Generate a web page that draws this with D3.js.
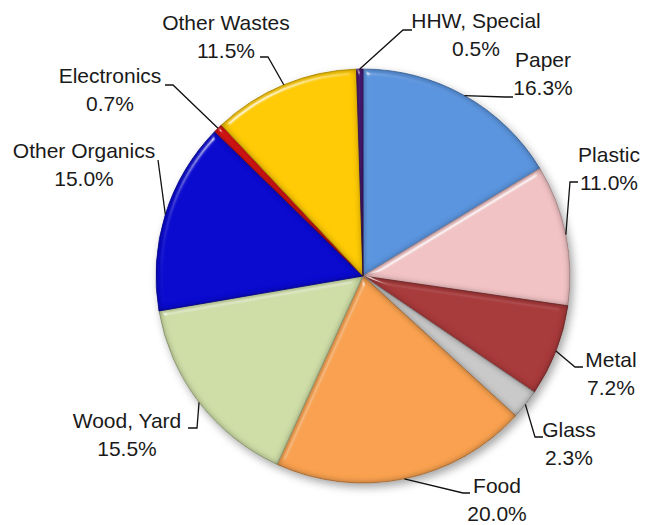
<!DOCTYPE html>
<html>
<head>
<meta charset="utf-8">
<script src="https://cdn.jsdelivr.net/npm/d3@7"></script>
<style>
  html, body { margin: 0; padding: 0; background: #fff; }
  svg { display: block; }
  .lbl { font-family: "Liberation Sans", Arial, sans-serif; font-size: 21px; fill: #1a1a1a; }
</style>
</head>
<body>
<svg id="chart" width="654" height="525"></svg>
<script>
// Waste composition, clockwise from 12 o'clock
const categories = ["Paper", "Plastic", "Metal", "Glass", "Food", "Wood, Yard",
                    "Other Organics", "Electronics", "Other Wastes", "HHW, Special"];
const shares = [16.3, 11.0, 7.2, 2.3, 20.0, 15.5, 15.0, 0.7, 11.5, 0.5];
const sliceColors = ["#5b95df", "#f2c3c5", "#a83a3b", "#c9c9c9", "#f9a14f",
                     "#cfdea7", "#0a0ad0", "#dd1414", "#ffcb05", "#4d1b7c"];

// Label placement: text centre x, first baseline y, leader elbow and end
const labelLayout = [
  { x: 543, y: 67,  elbow: [505, 97],  end: [513, 97] },
  { x: 609, y: 162, elbow: [570, 182], end: [578, 182] },
  { x: 611, y: 367, elbow: [575, 367], end: [583, 367] },
  { x: 569, y: 437, elbow: [535, 437], end: [543, 437] },
  { x: 497, y: 493, elbow: [463, 493], end: [470, 493] },
  { x: 127, y: 428, elbow: [197, 428], end: [188, 428] },
  { x: 84,  y: 158, elbow: [158, 160], end: [158, 160] },
  { x: 110, y: 83,  elbow: [173, 85],  end: [165, 85] },
  { x: 226, y: 30,  elbow: [268, 57],  end: [260, 57] },
  { x: 476, y: 28,  elbow: [403, 30],  end: [412, 30] }
];

const cx = 363, cy = 276, R = 207;
const svg = d3.select("#chart");
const defs = svg.append("defs");

// Soft shadow under the whole pie
const shadow = defs.append("filter").attr("id", "pieShadow")
  .attr("color-interpolation-filters", "sRGB")
  .attr("x", "-20%").attr("y", "-20%").attr("width", "140%").attr("height", "140%");
shadow.append("feDropShadow").attr("dx", 3).attr("dy", 4)
  .attr("stdDeviation", 4).attr("flood-color", "#000").attr("flood-opacity", 0.35);

// Bevelled slice surface: edge highlight plus darkened rim
const bevel = defs.append("filter").attr("id", "bevel")
  .attr("color-interpolation-filters", "sRGB")
  .attr("x", "-10%").attr("y", "-10%").attr("width", "120%").attr("height", "120%");
bevel.append("feGaussianBlur").attr("in", "SourceAlpha").attr("stdDeviation", 3).attr("result", "blur");
const spec = bevel.append("feSpecularLighting").attr("in", "blur")
  .attr("surfaceScale", 5).attr("specularConstant", 0.8).attr("specularExponent", 40)
  .attr("lighting-color", "#ffffff").attr("result", "spec");
spec.append("feDistantLight").attr("azimuth", 235).attr("elevation", 35);
bevel.append("feComposite").attr("in", "spec").attr("in2", "SourceAlpha")
  .attr("operator", "in").attr("result", "specIn");
bevel.append("feComposite").attr("in", "SourceAlpha").attr("in2", "blur")
  .attr("operator", "arithmetic").attr("k2", 1).attr("k3", -1).attr("result", "rim");
bevel.append("feFlood").attr("flood-color", "#000").attr("flood-opacity", 0.4).attr("result", "dark");
bevel.append("feComposite").attr("in", "dark").attr("in2", "rim").attr("operator", "in").attr("result", "rimDark");
bevel.append("feMerge").call(m => {
  m.append("feMergeNode").attr("in", "SourceGraphic");
  m.append("feMergeNode").attr("in", "rimDark");
  m.append("feMergeNode").attr("in", "specIn");
});

const data = categories.map((c, i) => ({ name: c, value: shares[i], color: sliceColors[i], layout: labelLayout[i] }));

const pie = d3.pie().value(d => d.value).sort(null).startAngle(0).endAngle(2 * Math.PI);
const arc = d3.arc().innerRadius(0).outerRadius(R);
const arcs = pie(data);

const g = svg.append("g").attr("transform", `translate(${cx},${cy})`).attr("filter", "url(#pieShadow)");
g.selectAll("path.slice").data(arcs).join("path")
  .attr("class", "slice")
  .attr("d", arc)
  .attr("fill", d => d.data.color)
  .attr("stroke", d => d3.color(d.data.color).darker(0.8))
  .attr("stroke-width", 0.8)
  .attr("filter", "url(#bevel)");

// Leader lines from each slice's mid-angle on the rim to its label
const line = d3.line();
svg.append("g").selectAll("path.leader").data(arcs).join("path")
  .attr("class", "leader")
  .attr("fill", "none")
  .attr("stroke", "#111")
  .attr("stroke-width", 1.3)
  .attr("d", d => {
    const a = (d.startAngle + d.endAngle) / 2;
    const p0 = [cx + R * Math.sin(a), cy - R * Math.cos(a)];
    return line([p0, d.data.layout.elbow, d.data.layout.end]);
  });

// Category name and percentage
const lbl = svg.append("g").selectAll("text").data(arcs).join("text")
  .attr("class", "lbl")
  .attr("text-anchor", "middle")
  .attr("x", d => d.data.layout.x)
  .attr("y", d => d.data.layout.y);
lbl.append("tspan").attr("x", d => d.data.layout.x).text(d => d.data.name);
lbl.append("tspan").attr("x", d => d.data.layout.x).attr("dy", 28)
  .text(d => d3.format(".1f")(d.data.value) + "%");
</script>
</body>
</html>
